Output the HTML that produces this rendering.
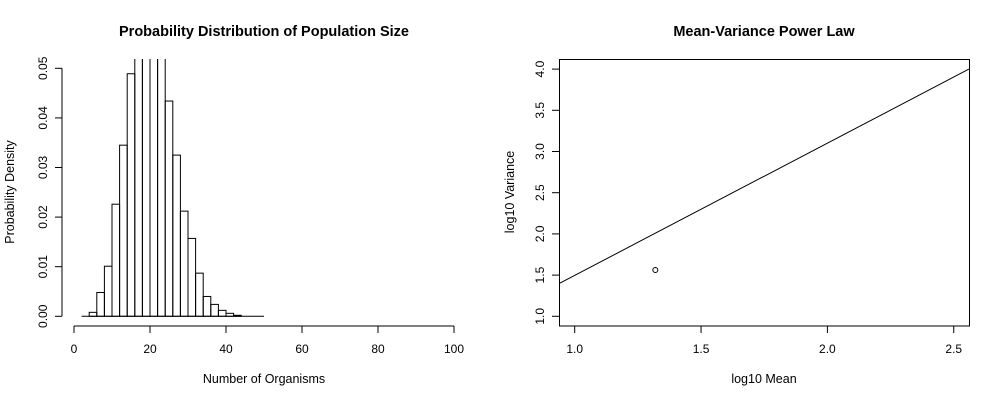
<!DOCTYPE html>
<html><head><meta charset="utf-8"><style>
body{margin:0;background:#fff;}
svg text{font-family:"Liberation Sans",Arial,sans-serif;fill:#000;}
</style></head><body>
<svg width="1000" height="400" viewBox="0 0 1000 400">
<defs><clipPath id="lc"><rect x="62" y="59" width="410" height="267"/></clipPath></defs>
<g id="left"></g>
<g id="right"></g>
</svg>
<script>
// Histogram data
const binStarts = [2,4,6,8,10,12,14,16,18,20,22,24,26,28,30,32,34,36,38,40,42,44,46,48];
const densities = [0,0.0008,0.0048,0.0101,0.0226,0.0345,0.0489,0.056,0.059,0.058,0.054,0.0434,0.0325,0.0212,0.0157,0.0087,0.0040,0.0024,0.0012,0.0006,0.0002,0,0,0];
const binWidth = 2;
const xTicksL = [0,20,40,60,80,100];
const yTicksL = ["0.00","0.01","0.02","0.03","0.04","0.05"];
// Power law data
const lineX = [0.94, 2.56];
const lineY = [1.40, 4.00];
const ptX = [1.319];
const ptY = [1.562];
const xTicksR = ["1.0","1.5","2.0","2.5"];
const yTicksR = ["1.0","1.5","2.0","2.5","3.0","3.5","4.0"];

const NS="http://www.w3.org/2000/svg";
function mk(p,tag,at,txt){const e=document.createElementNS(NS,tag);for(const k in at)e.setAttribute(k,at[k]);if(txt!==undefined)e.textContent=txt;p.appendChild(e);return e;}

// left
const L=document.getElementById('left');
const xL=v=>74+v*3.8, yL=v=>316.3-v*4960;
const t1=mk(L,'text',{x:264,y:36,'text-anchor':'middle','font-size':14.5,'font-weight':'bold'},'Probability Distribution of Population Size');


const bars=mk(L,'g',{'clip-path':'url(#lc)'});
binStarts.forEach((b,i)=>{
  const r=mk(bars,'rect',{x:xL(b),y:yL(densities[i]),width:binWidth*3.8,height:yL(0)-yL(densities[i]),fill:'none',stroke:'#000','stroke-width':1});
  
  
});
const base=mk(L,'line',{x1:xL(binStarts[0]),x2:xL(binStarts[binStarts.length-1]+binWidth),y1:yL(0),y2:yL(0),stroke:'#000'});


const xa=mk(L,'g',{});


mk(xa,'line',{x1:xL(0),x2:xL(100),y1:326,y2:326,stroke:'#000'});
xTicksL.forEach(v=>{mk(xa,'line',{x1:xL(v),x2:xL(v),y1:326,y2:333,stroke:'#000'});mk(xa,'text',{x:xL(v),y:353,'text-anchor':'middle','font-size':12},v);});
const ya=mk(L,'g',{});


mk(ya,'line',{x1:62,x2:62,y1:yL(0),y2:yL(0.05),stroke:'#000'});
yTicksL.forEach(s=>{const y=yL(+s);mk(ya,'line',{x1:55,x2:62,y1:y,y2:y,stroke:'#000'});mk(ya,'text',{x:0,y:0,transform:`translate(47,${y}) rotate(-90)`,'text-anchor':'middle','font-size':12},s);});
const xl=mk(L,'text',{x:264,y:383,'text-anchor':'middle','font-size':12.5},'Number of Organisms');


const yl=mk(L,'text',{transform:'translate(14,192) rotate(-90)','text-anchor':'middle','font-size':12.5},'Probability Density');



// right
const R=document.getElementById('right');
const xR=v=>574.7+(v-1)*252.7, yR=v=>316.3-(v-1)*82.4;
const t2=mk(R,'text',{x:764,y:36,'text-anchor':'middle','font-size':14.5,'font-weight':'bold'},'Mean-Variance Power Law');


const box=mk(R,'rect',{x:559.5,y:59.5,width:410,height:266.5,fill:'none',stroke:'#000'});


xTicksR.forEach(s=>{const x=xR(+s);mk(R,'line',{x1:x,x2:x,y1:326,y2:333,stroke:'#000'});mk(R,'text',{x:x,y:353,'text-anchor':'middle','font-size':12},s);});
yTicksR.forEach(s=>{const y=yR(+s);mk(R,'line',{x1:552,x2:559.5,y1:y,y2:y,stroke:'#000'});mk(R,'text',{transform:`translate(544,${y}) rotate(-90)`,'text-anchor':'middle','font-size':12},s);});
const fit=mk(R,'polyline',{points:lineX.map((x,i)=>xR(x)+','+yR(lineY[i])).join(' '),fill:'none',stroke:'#000'});


ptX.forEach((x,i)=>{const c=mk(R,'circle',{cx:xR(x),cy:yR(ptY[i]),r:2.5,fill:'none',stroke:'#000'});

});
const xl2=mk(R,'text',{x:764,y:383,'text-anchor':'middle','font-size':12.5},'log10 Mean');


const yl2=mk(R,'text',{transform:'translate(514,192) rotate(-90)','text-anchor':'middle','font-size':12.5},'log10 Variance');


</script>
</body></html>
